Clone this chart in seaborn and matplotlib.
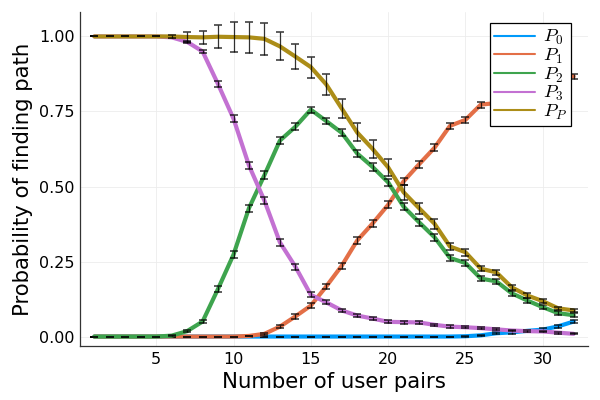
import numpy as np
import pandas as pd
import matplotlib
matplotlib.use("Agg")
import matplotlib.pyplot as plt
import seaborn as sns

# number of user pairs
n_pairs = list(range(1, 33))

p0 = [0.0] * 24 + [0.001, 0.004, 0.011, 0.014, 0.019, 0.023, 0.034, 0.050]
p1 = [0.0] * 10 + [0.002, 0.009, 0.033, 0.067, 0.103, 0.167, 0.236, 0.320,
                   0.377, 0.439, 0.517, 0.574, 0.629, 0.702, 0.722, 0.773,
                   0.778, 0.820, 0.842, 0.860, 0.873, 0.867]
p2 = [0.0] * 5 + [0.003, 0.018, 0.050, 0.159, 0.273, 0.428, 0.538, 0.653,
                  0.699, 0.756, 0.718, 0.679, 0.610, 0.565, 0.514, 0.433,
                  0.381, 0.331, 0.262, 0.245, 0.193, 0.184, 0.144, 0.120,
                  0.098, 0.078, 0.071]
p3 = [1.0] * 5 + [0.997, 0.982, 0.950, 0.841, 0.726, 0.570, 0.453, 0.314,
                  0.233, 0.139, 0.114, 0.087, 0.070, 0.060, 0.049, 0.048,
                  0.047, 0.039, 0.033, 0.031, 0.028, 0.024, 0.020, 0.018,
                  0.017, 0.013, 0.009]
pp = [1.0] * 6 + [0.998, 0.997, 0.999, 0.998, 0.997, 0.992, 0.967, 0.933,
                  0.898, 0.840, 0.760, 0.680, 0.625, 0.564, 0.481, 0.428,
                  0.376, 0.300, 0.281, 0.226, 0.214, 0.164, 0.137, 0.118,
                  0.094, 0.087]

# standard errors
p0_err = [0.0] * 24 + [0.001, 0.002, 0.003, 0.004, 0.004, 0.005, 0.005, 0.006]
p1_err = [0.0] * 10 + [0.001, 0.003, 0.005, 0.007, 0.008, 0.009, 0.010, 0.011,
                       0.012, 0.012, 0.012, 0.012, 0.012, 0.011, 0.011, 0.010,
                       0.010, 0.009, 0.009, 0.008, 0.008, 0.008]
p2_err = [0.0] * 5 + [0.002, 0.004, 0.006, 0.009, 0.011, 0.012, 0.012, 0.012,
                      0.011, 0.010, 0.010, 0.011, 0.012, 0.012, 0.012, 0.012,
                      0.012, 0.011, 0.010, 0.010, 0.009, 0.009, 0.008, 0.007,
                      0.007, 0.006, 0.006]
p3_err = [0.0] * 5 + [0.002, 0.004, 0.006, 0.009, 0.011, 0.012, 0.012, 0.011,
                      0.010, 0.008, 0.007, 0.006, 0.006, 0.005, 0.005, 0.005,
                      0.005, 0.004, 0.004, 0.004, 0.004, 0.003, 0.003, 0.003,
                      0.003, 0.003, 0.002]
pp_err = [0.0] * 5 + [0.004, 0.017, 0.022, 0.039, 0.049, 0.052, 0.054, 0.047,
                      0.043, 0.035, 0.034, 0.032, 0.030, 0.029, 0.028, 0.025,
                      0.018, 0.017, 0.013, 0.012, 0.009, 0.009, 0.008, 0.008,
                      0.007, 0.006, 0.006]

labels = ["$P_0$", "$P_1$", "$P_2$", "$P_3$", "$P_P$"]
colors = ["#009AFA", "#E36F47", "#3EA44E", "#C371D2", "#AC8D18"]
values = [p0, p1, p2, p3, pp]
errors = [p0_err, p1_err, p2_err, p3_err, pp_err]

sns.set_style("white")
plt.rcParams["font.family"] = ["DejaVu Sans"]
plt.rcParams["mathtext.fontset"] = "cm"
plt.rcParams["text.color"] = "black"
plt.rcParams["axes.labelcolor"] = "black"
plt.rcParams["xtick.color"] = "black"
plt.rcParams["ytick.color"] = "black"

rows = []
for lab, vals, errs in zip(labels, values, errors):
    for n, v, e in zip(n_pairs, vals, errs):
        rows.append({"n": n, "prob": v, "err": e, "series": lab})
df = pd.DataFrame(rows)

fig = plt.figure(figsize=(6, 4), dpi=100)
ax = fig.add_axes([80 / 600, 54 / 400, 508 / 600, 334 / 400])

for i, (lab, col) in enumerate(zip(labels, colors)):
    sub = df[df["series"] == lab]
    sns.lineplot(data=sub, x="n", y="prob", color=col, linewidth=3,
                 label=lab, ax=ax, zorder=3 + i, errorbar=None)
    ax.errorbar(sub["n"], sub["prob"], yerr=sub["err"], fmt="none",
                ecolor="black", elinewidth=0.9, capsize=3, capthick=1.1,
                alpha=0.8, zorder=3.5 + i)

ax.set_xlim(0.07, 32.93)
ax.set_ylim(-0.0315, 1.0815)
ax.set_xticks([5, 10, 15, 20, 25, 30])
ax.set_yticks([0, 0.25, 0.5, 0.75, 1.0])
ax.set_yticklabels(["0.00", "0.25", "0.50", "0.75", "1.00"])
ax.tick_params(direction="in", length=4, width=0.8, labelsize=11.5,
               color="black", labelcolor="black", pad=4)
ax.grid(True, color="#ececec", linewidth=0.6)
for s in ["top", "right"]:
    ax.spines[s].set_visible(False)
for s in ["left", "bottom"]:
    ax.spines[s].set_color("#333333")
    ax.spines[s].set_linewidth(0.9)

ax.set_xlabel("Number of user pairs", fontsize=15.3, color="black")
ax.set_ylabel("Probability of finding path", fontsize=15.3, color="black")

handles, _ = ax.get_legend_handles_labels()
leg = ax.legend(handles, labels, loc="upper right",
                bbox_to_anchor=(571 / 600, 377 / 400),
                bbox_transform=fig.transFigure, fontsize=13.5,
                frameon=True, fancybox=False, framealpha=1,
                edgecolor="black", handlelength=2.2, handletextpad=0.4,
                labelspacing=-0.08, borderpad=0.22, borderaxespad=0)
leg.get_frame().set_linewidth(0.9)
for line in leg.get_lines():
    line.set_linewidth(1.5)

fig.savefig("out.png", dpi=100)
